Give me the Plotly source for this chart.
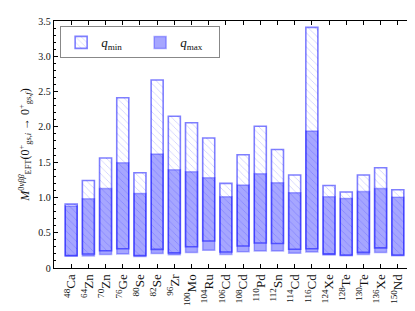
import plotly.graph_objects as go

nuclei = ["<sup>48</sup>Ca", "<sup>64</sup>Zn", "<sup>70</sup>Zn", "<sup>76</sup>Ge", "<sup>80</sup>Se",
          "<sup>82</sup>Se", "<sup>96</sup>Zr", "<sup>100</sup>Mo", "<sup>104</sup>Ru", "<sup>106</sup>Cd",
          "<sup>108</sup>Cd", "<sup>110</sup>Pd", "<sup>112</sup>Sn", "<sup>114</sup>Cd", "<sup>116</sup>Cd",
          "<sup>124</sup>Xe", "<sup>128</sup>Te", "<sup>130</sup>Te", "<sup>136</sup>Xe", "<sup>150</sup>Nd"]

qmin_hi = [0.905, 1.24, 1.558, 2.412, 1.35, 2.665, 2.15, 2.058, 1.843, 1.199,
           1.605, 2.008, 1.68, 1.318, 3.41, 1.168, 1.076, 1.318, 1.42, 1.109]
qmin_lo = [0.178, 0.198, 0.245, 0.273, 0.178, 0.264, 0.215, 0.302, 0.382, 0.226,
           0.311, 0.354, 0.347, 0.265, 0.273, 0.2, 0.184, 0.221, 0.285, 0.184]
qmax_hi = [0.878, 0.981, 1.128, 1.493, 1.057, 1.617, 1.392, 1.364, 1.279, 1.01,
           1.176, 1.336, 1.208, 1.068, 1.94, 1.01, 0.986, 1.083, 1.128, 1.003]
qmax_lo = [0.165, 0.17, 0.193, 0.198, 0.162, 0.207, 0.188, 0.221, 0.25, 0.193,
           0.23, 0.24, 0.24, 0.21, 0.225, 0.185, 0.175, 0.193, 0.22, 0.175]

ytick_vals = [0, 0.5, 1.0, 1.5, 2.0, 2.5, 3.0, 3.5]
ytick_text = ["0", "0.5", "1.0", "1.5", "2.0", "2.5", "3.0", "3.5"]

xs = list(range(len(nuclei)))
FONT = "Liberation Serif"

fig = go.Figure()
fig.add_trace(go.Bar(
    x=xs, y=[h - l for h, l in zip(qmax_hi, qmax_lo)], base=qmax_lo,
    width=0.7, name="<i>q</i><sub>max</sub>",
    marker=dict(color="rgba(0,0,255,0.35)", line=dict(color="rgba(0,0,255,0.3)", width=1.5)),
))
fig.add_trace(go.Bar(
    x=xs, y=[h - l for h, l in zip(qmin_hi, qmin_lo)], base=qmin_lo,
    width=0.7, name="<i>q</i><sub>min</sub>",
    marker=dict(color="rgba(0,0,255,0.2)",
                pattern=dict(shape="\\", fgcolor="rgba(0,0,255,0.2)", bgcolor="rgba(255,255,255,0)",
                             size=5, solidity=0.15, fillmode="replace"),
                line=dict(color="rgba(0,0,255,0.5)", width=1.6)),
))

fig.update_layout(
    width=415, height=311,
    margin=dict(l=46, r=8, t=13, b=51),
    barmode="overlay",
    plot_bgcolor="white", paper_bgcolor="white",
    font=dict(family=FONT, size=11, color="#111"),
    legend=dict(orientation="h", x=0.017, y=0.978, xanchor="left", yanchor="top",
                traceorder="reversed", bordercolor="#888", borderwidth=1,
                bgcolor="white", font=dict(size=13), entrywidth=34,
                itemwidth=30),
    xaxis=dict(range=[-1, 20], tickmode="array", tickvals=xs, ticktext=nuclei,
               tickangle=-90, ticks="inside", ticklen=4, mirror="ticks",
               showline=True, linecolor="black", linewidth=1.3, tickcolor="black",
               showgrid=False, zeroline=False, tickfont=dict(size=13)),
    yaxis=dict(range=[0, 3.5], tickmode="array", tickvals=ytick_vals, ticktext=ytick_text,
               ticks="inside", ticklen=4, mirror="ticks",
               showline=True, linecolor="black", linewidth=1.3, tickcolor="black",
               minor=dict(dtick=0.1, ticks="inside", ticklen=2, tickcolor="black", showgrid=False),
               showgrid=False, zeroline=False, tickfont=dict(size=10),
               title=dict(text="<i>M</i><sup>0<i>νββ</i></sup><sub>EFT</sub>(0<sup>+</sup><sub>gs,<i>i</i></sub> → 0<sup>+</sup><sub>gs,<i>f</i></sub>)",
                          font=dict(size=12), standoff=6)),
)

fig.write_html("out.html")
